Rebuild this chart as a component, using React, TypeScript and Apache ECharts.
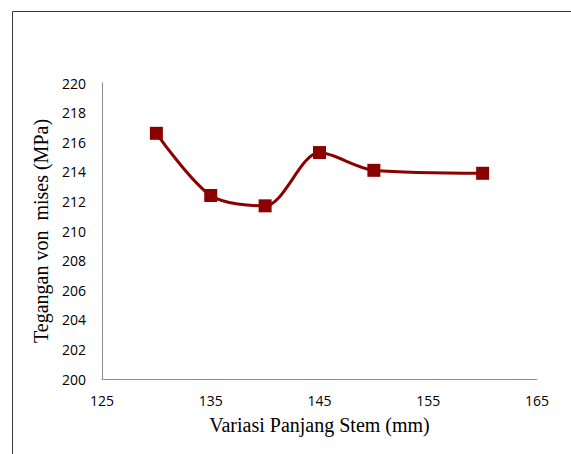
import React, { useEffect, useRef } from "react";
import * as echarts from "echarts";

const stemLengths = [130, 135, 140, 145, 150, 160];
const vonMises = [216.6, 212.4, 211.7, 215.3, 214.1, 213.9];

export default function App() {
  const ref = useRef<HTMLDivElement>(null);
  useEffect(() => {
    if (!ref.current) return;
    const chart = echarts.init(ref.current, null, { renderer: "svg" });
    chart.setOption({
      animation: false,
      backgroundColor: "#ffffff",
      grid: { left: 102, top: 83, right: 34, bottom: 75, containLabel: false },
      graphic: [
        {
          type: "rect",
          shape: { x: 12.5, y: 11.5, width: 700, height: 600 },
          style: { fill: "none", stroke: "#3a3a3a", lineWidth: 1 },
          silent: true,
        },
      ],
      xAxis: {
        type: "value",
        min: 125,
        max: 165,
        interval: 10,
        name: "Variasi Panjang Stem (mm)",
        nameLocation: "middle",
        nameGap: 36,
        nameTextStyle: { fontFamily: "Liberation Serif", fontSize: 20, color: "#000" },
        axisLine: { show: true, lineStyle: { color: "#8c8c8c", width: 1 } },
        axisTick: { show: false },
        splitLine: { show: false },
        axisLabel: { fontFamily: "Open Sans", fontSize: 14, color: "#000", margin: 14 },
      },
      yAxis: {
        type: "value",
        min: 200,
        max: 220,
        interval: 2,
        name: "Tegangan von  mises (MPa)",
        nameLocation: "middle",
        nameGap: 49,
        nameTextStyle: { fontFamily: "Liberation Serif", fontSize: 20, color: "#000" },
        axisLine: { show: true, lineStyle: { color: "#8c8c8c", width: 1 } },
        axisTick: { show: false },
        splitLine: { show: false },
        axisLabel: { fontFamily: "Open Sans", fontSize: 14, color: "#000", margin: 16 },
      },
      series: [
        {
          type: "line",
          data: stemLengths.map((x, i) => [x, vonMises[i]]),
          smooth: 0.3,
          symbol: "rect",
          symbolSize: 13,
          lineStyle: { color: "#8b0000", width: 3 },
          itemStyle: { color: "#8b0000" },
        },
      ],
    });
    return () => chart.dispose();
  }, []);
  return (
    <div
      ref={ref}
      style={{ position: "absolute", left: 0, top: 0, width: 571, height: 454 }}
    />
  );
}
